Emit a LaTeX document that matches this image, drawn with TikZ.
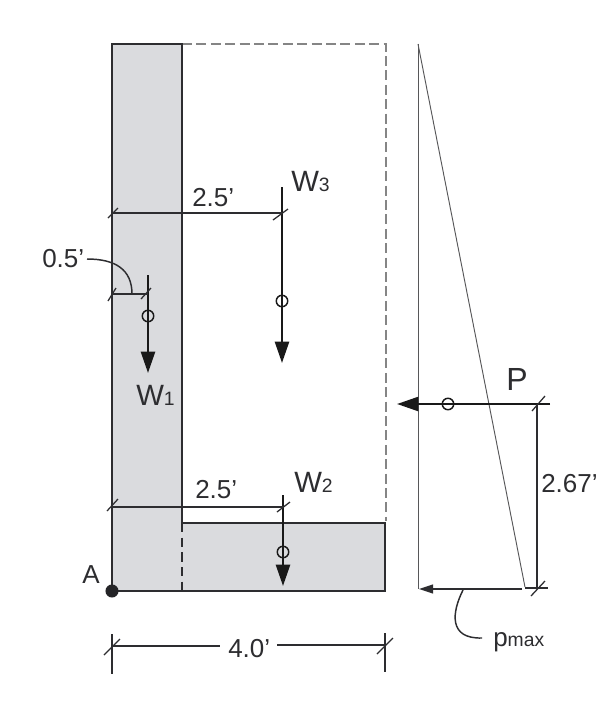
\documentclass[tikz,border=0pt]{standalone}
\usepackage{fontspec}
\setmainfont{Liberation Sans}
\usetikzlibrary{arrows.meta}
\definecolor{wallgray}{RGB}{218,219,222}
\definecolor{ink}{RGB}{45,45,48}
\newcommand{\smalltxt}[1]{{\fontsize{14.5pt}{16pt}\selectfont #1}}
\tikzset{
 x=0.75pt,y=-0.75pt,
 outline/.style={draw=ink,line width=1.4pt},
 thin line/.style={draw=ink!80,line width=0.7pt},
 dim/.style={draw=ink,line width=1.1pt},
 tick/.style={draw=ink,line width=0.95pt},
 force/.style={draw=black!90,line width=1.9pt,-{Triangle[length=16pt,width=10.5pt]}},
 cen/.style={circle,draw=black!90,line width=1.1pt,fill=none,minimum size=8.6pt,inner sep=0pt},
 lbl/.style={font=\fontsize{19.5pt}{22pt}\selectfont,text=ink,inner sep=0pt,anchor=base west},
 wlbl/.style={lbl,font=\fontsize{22pt}{24pt}\selectfont},
 dashgray/.style={draw=black!48,line width=1pt,dash pattern=on 7.5pt off 3.3pt},
}
\begin{document}
\begin{tikzpicture}
\useasboundingbox (0,0) rectangle (616,711);
\fill[white] (0,0) rectangle (616,711);
% shapes
\fill[wallgray] (112,44) rectangle (182,591);
\fill[wallgray] (182,523) rectangle (385,591);
\draw[dashgray] (182,44) -- (386,44) -- (386,521);
\draw[outline] (182,591) -- (112,591) -- (112,44) -- (182,44) -- (182,523);
\draw[outline] (182,523) -- (385,523) -- (385,591) -- (182,591);
\draw[draw=ink,line width=1.2pt,dash pattern=on 7pt off 4pt] (182,523) -- (182,591);
\fill[ink!80!black] (112,591) circle (4.9pt);
% pressure
\coordinate (ptop) at (418,44);
\coordinate (pbase) at (418,589);
\coordinate (ptip) at (525,587);
\draw[thin line] (ptop) -- (pbase);
\draw[thin line] (ptop) -- (ptip);
% forces
\coordinate (w3t) at (282,187); \coordinate (w3b) at (282,363);
\coordinate (w1t) at (148,275); \coordinate (w1b) at (148,373);
\coordinate (w2t) at (283,495); \coordinate (w2b) at (283,586);
\coordinate (pr) at (550,404); \coordinate (pl) at (397,404);
\draw[force] (w3t) -- (w3b);
\draw[force] (w1t) -- (w1b);
\draw[force] (w2t) -- (w2b);
\draw[force] (pr) -- (pl);
\node[cen] (c3) at (282,301) {};
\node[cen] (c1) at (148,316) {};
\node[cen] (c2) at (283,552) {};
\node[cen] (cp) at (448,404) {};
% dims
\draw[dim] (112,213) -- (282,213);
\draw[tick] (108,218) -- (118,208);
\draw[tick] (273,220) -- (288,209);
\draw[dim,line width=1.4pt] (112,294) -- (148,294);
\draw[tick] (108,301) -- (116,288);
\draw[tick] (141,299) -- (151,288);
\draw[dim] (87,259) .. controls (116,259) and (132,270) .. (132,294);
\draw[dim] (112,507) -- (283,507);
\draw[tick] (107,511) -- (118,499);
\draw[tick] (277,512) -- (290,502);
% 4.0
\draw[dim] (112,634) -- (112,674);
\draw[dim] (385,633) -- (385,672);
\draw[tick] (104,655) -- (120,639);
\draw[tick] (377,654) -- (393,638);
\draw[dim,line width=1.3pt] (112,646) -- (220,646);
\draw[dim,line width=1.3pt] (277,645) -- (385,645);
% right dims
\draw[dim,line width=1.4pt] (537,404) -- (537,588);
\draw[tick] (532,411) -- (545,396);
\draw[tick] (531,596) -- (545,581);
\coordinate (ar) at (522,589); \coordinate (al) at (419,589);
\draw[draw=ink,line width=1.4pt,-{Triangle[length=10.5pt,width=6.5pt]}] (ar) -- (al);
\draw[dim] (525,588) -- (548,588);
\draw[dim] (463,590) .. controls (452,612) and (448,639) .. (482,638);
% labels
\node[wlbl] at (291,191) {W\smalltxt{3}};
\node[wlbl] at (136,405) {W\smalltxt{1}};
\node[wlbl] at (294,492) {W\smalltxt{2}};
\node[lbl] at (192,206) {2.5'};
\node[lbl] at (195,498) {2.5'};
\node[lbl] at (42,267) {0.5'};
\node[lbl] at (82,583) {A};
\node[lbl] at (228,657) {4.0'};
\node[lbl,font=\fontsize{24pt}{26pt}\selectfont] at (506,390) {P};
\node[lbl] at (541,492) {2.67'};
\node[lbl] at (493,646) {p\smalltxt{max}};
\end{tikzpicture}
\end{document}
